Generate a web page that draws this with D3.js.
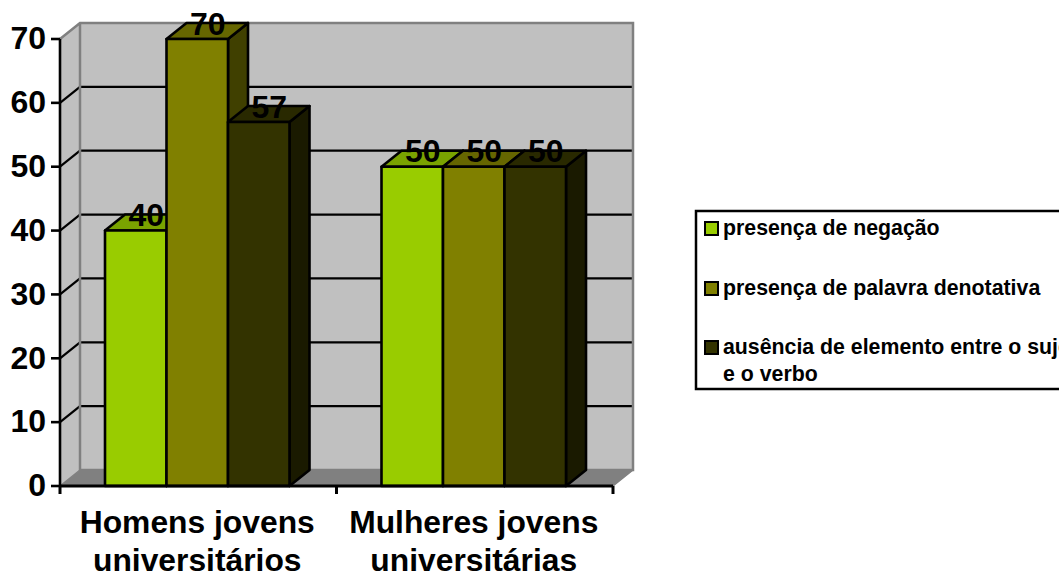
<!DOCTYPE html>
<html><head><meta charset="utf-8">
<script src="https://cdn.jsdelivr.net/npm/d3@7"></script>
<style>html,body{margin:0;padding:0;background:#fff;overflow:hidden}svg{display:block}text{font-family:"Liberation Sans",Arial,sans-serif;font-weight:bold;fill:#000}</style>
</head><body><div id="chart"></div>
<script>
const categories = ["Homens jovens universitários", "Mulheres jovens universitárias"];
const categoryLines = [["Homens jovens", "universitários"], ["Mulheres jovens", "universitárias"]];
const seriesNames = ["presença de negação", "presença de palavra denotativa", "ausência de elemento entre o sujeito e o verbo"];
const presencaNegacao = [40, 50];
const presencaDenotativa = [70, 50];
const ausenciaElemento = [57, 50];
const seriesValues = [presencaNegacao, presencaDenotativa, ausenciaElemento];
const tickValues = [0, 10, 20, 30, 40, 50, 60, 70];
const frontColors = ["#99CC00", "#808000", "#333300"];
const topColors = ["#7AA300", "#666600", "#292900"];
const sideColors = ["#5C7A00", "#404000", "#1A1A00"];

const W = 1059, H = 574, dx = 20, dy = -16;
const svg = d3.select("#chart").append("svg").attr("width", W).attr("height", H);
const y = d3.scaleLinear().domain([0, 70]).range([486, 39]);
const x0 = d3.scaleBand().domain(categories).range([60, 613]);
const x1 = d3.scaleBand().domain(d3.range(3)).range([45, x0.bandwidth() - 47]);
const poly = pts => pts.map(p => p.join(",")).join(" ");

// walls
const xL = x0.range()[0], xR = x0.range()[1], yB = y(0), yT = y(70);
svg.append("polygon").attr("points", poly([[xL, yB], [xL + dx, yB + dy], [xL + dx, yT + dy], [xL, yT]])).attr("fill", "#C0C0C0");
svg.append("rect").attr("x", xL + dx).attr("y", yT + dy).attr("width", xR - xL).attr("height", yB - yT).attr("fill", "#C0C0C0");
svg.append("polygon").attr("points", poly([[xL, yB], [xR, yB], [xR + dx, yB + dy], [xL + dx, yB + dy]])).attr("fill", "#808080");

// grid
tickValues.filter(v => v > 0 && v < 70).forEach(v => {
  svg.append("line").attr("x1", xL + dx).attr("x2", xR + dx).attr("y1", y(v) + dy).attr("y2", y(v) + dy).attr("stroke", "#000").attr("stroke-width", 2.2);
  svg.append("line").attr("x1", xL).attr("x2", xL + dx).attr("y1", y(v)).attr("y2", y(v) + dy).attr("stroke", "#000").attr("stroke-width", 2.2);
});
// wall edges
svg.append("path").attr("fill", "none").attr("stroke", "#808080").attr("stroke-width", 2.5)
  .attr("d", `M${xL},${yT}L${xL + dx},${yT + dy}L${xR + dx},${yT + dy}L${xR + dx},${yB + dy}L${xL + dx},${yB + dy}L${xL + dx},${yT + dy}`);
svg.append("path").attr("fill", "none").attr("stroke", "#808080").attr("stroke-width", 1.5)
  .attr("d", `M${xL},${yB}L${xL + dx},${yB + dy}M${xR},${yB}L${xR + dx},${yB + dy}`);

// bars
const sw = 2.6;
categories.forEach((c, ci) => {
  seriesValues.forEach((vals, si) => {
    const a = x0(c) + x1(si), b = a + x1.bandwidth(), t = y(vals[ci]);
    const g = svg.append("g").attr("stroke", "#000").attr("stroke-width", sw).attr("stroke-linejoin", "round");
    g.append("polygon").attr("points", poly([[b, t], [b + dx, t + dy], [b + dx, yB + dy], [b, yB]])).attr("fill", sideColors[si]);
    g.append("polygon").attr("points", poly([[a, t], [a + dx, t + dy], [b + dx, t + dy], [b, t]])).attr("fill", topColors[si]);
    g.append("rect").attr("x", a).attr("y", t).attr("width", b - a).attr("height", yB - t).attr("fill", frontColors[si]);
  });
});

// axes
const yAxis = d3.axisLeft(y).tickValues(tickValues).tickFormat(d3.format("d")).tickSize(9).tickSizeOuter(0).tickPadding(5).offset(0);
const gy = svg.append("g").attr("transform", `translate(${xL},0)`).call(yAxis);
gy.selectAll("path,line").attr("stroke", "#000").attr("stroke-width", 2.6);
gy.selectAll("text").attr("font-size", 32).attr("font-family", '"Liberation Sans",Arial,sans-serif').attr("font-weight", "bold").attr("fill", "#000");
gy.attr("font-family", null).attr("font-size", null);

const boundaries = categories.map(c => x0(c)).concat([xR]);
const xAxis = d3.axisBottom(d3.scaleIdentity().domain([xL, xR])).tickValues(boundaries).tickFormat("").tickSize(8).tickSizeOuter(0).offset(0);
const gx = svg.append("g").attr("transform", `translate(0,${yB})`).call(xAxis);
gx.selectAll("path,line").attr("stroke", "#000").attr("stroke-width", 3);

// category labels
categories.forEach((c, ci) => {
  const cx = x0(c) + x0.bandwidth() / 2 - 1;
  categoryLines[ci].forEach((line, li) => {
    svg.append("text").attr("x", cx).attr("y", 533 + li * 38).attr("text-anchor", "middle").attr("font-size", 31.8).text(line);
  });
});

// data labels
categories.forEach((c, ci) => {
  seriesValues.forEach((vals, si) => {
    svg.append("text").attr("x", x0(c) + x1(si) + x1.bandwidth() / 2 + dx / 2 + 0.5).attr("y", y(vals[ci]) - 4.5)
      .attr("text-anchor", "middle").attr("font-size", 32).text(vals[ci]);
  });
});

// legend
svg.append("rect").attr("x", 696).attr("y", 211).attr("width", 380).attr("height", 178).attr("fill", "#fff").attr("stroke", "#000").attr("stroke-width", 2.5);
const legendLines = [["presença de negação"], ["presença de palavra denotativa"], ["ausência de elemento entre o sujeito", "e o verbo"]];
const legendBase = [235, 295, 354];
seriesNames.forEach((n, i) => {
  svg.append("rect").attr("x", 705).attr("y", legendBase[i] - 13).attr("width", 13).attr("height", 13)
    .attr("fill", frontColors[i]).attr("stroke", "#000").attr("stroke-width", 2);
  legendLines[i].forEach((line, li) => {
    svg.append("text").attr("x", 723).attr("y", legendBase[i] + li * 27).attr("font-size", 21.3).text(line);
  });
});
</script></body></html>
